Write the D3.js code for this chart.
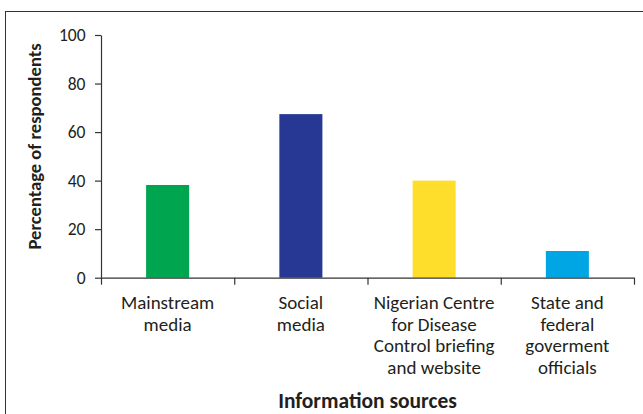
<!DOCTYPE html>
<html>
<head>
<meta charset="utf-8">
<script src="https://cdn.jsdelivr.net/npm/d3@7"></script>
<style>
  html, body { margin: 0; padding: 0; background: #fff; }
  svg { display: block; }
  text { font-family: Calibri, Carlito, Lato, "Open Sans", sans-serif; fill: #231f20; }
</style>
</head>
<body>
<svg id="chart" width="643" height="414"></svg>
<script>
// Information sources reported by respondents
const categories = [
  ["Mainstream", "media"],
  ["Social", "media"],
  ["Nigerian Centre", "for Disease", "Control briefing", "and website"],
  ["State and", "federal", "goverment", "officials"]
];
const values = [38.2, 67.4, 40, 11];
const colors = ["#00a550", "#263893", "#ffdd2b", "#00a6e3"];
const yTicks = [0, 20, 40, 60, 80, 100];
const xTitle = "Information sources";
const yTitle = "Percentage of respondents";

const svg = d3.select("#chart");
const ink = "#333";

// frame around the figure
svg.append("rect")
  .attr("x", 5.5).attr("y", 11.5)
  .attr("width", 700).attr("height", 500)
  .attr("fill", "none").attr("stroke", ink).attr("stroke-width", 1);

const plotLeft = 101, plotRight = 634, plotTop = 35, plotBottom = 277.7;

const y = d3.scaleLinear().domain([0, 100]).range([plotBottom, plotTop]);
const x = d3.scaleBand().domain(d3.range(categories.length))
  .range([plotLeft, plotRight]).paddingInner(0).paddingOuter(0);
const edge = d3.scaleLinear().domain([0, categories.length]).range([plotLeft, plotRight]);
const barW = x.bandwidth() * 0.323;

// bars
svg.append("g").selectAll("rect")
  .data(values)
  .join("rect")
  .attr("x", (d, i) => x(i) + x.bandwidth() / 2 - barW / 2)
  .attr("width", barW)
  .attr("y", d => y(d))
  .attr("height", d => y(0) - y(d))
  .attr("fill", (d, i) => colors[i]);

// y axis
const yAxis = svg.append("g")
  .attr("transform", `translate(${plotLeft},0)`)
  .call(d3.axisLeft(y).tickValues(yTicks).tickSize(6).tickSizeOuter(0).tickPadding(9.5));
yAxis.selectAll("path, line").attr("stroke", ink).attr("stroke-width", 1.2);
yAxis.selectAll("text").style("font-size", "17.5px").attr("fill", "#231f20")
  .style("font-family", "Calibri, Carlito, Lato, 'Open Sans', sans-serif");

// x axis with ticks at category boundaries
const xAxis = svg.append("g")
  .attr("transform", `translate(0,${plotBottom})`)
  .call(d3.axisBottom(edge).tickValues(d3.range(categories.length + 1))
    .tickFormat("").tickSize(7).tickSizeOuter(0));
xAxis.selectAll("path, line").attr("stroke", ink).attr("stroke-width", 1.2);

// category labels
const labels = svg.append("g").selectAll("text")
  .data(categories)
  .join("text")
  .attr("text-anchor", "middle")
  .attr("x", (d, i) => x(i) + x.bandwidth() / 2)
  .attr("y", 309)
  .style("font-size", "19px");
labels.selectAll("tspan")
  .data(d => d)
  .join("tspan")
  .attr("x", function () { return d3.select(this.parentNode).attr("x"); })
  .attr("dy", (d, i) => i === 0 ? 0 : 21.7)
  .text(d => d);

// axis titles
svg.append("text")
  .attr("x", (plotLeft + plotRight) / 2).attr("y", 408)
  .attr("text-anchor", "middle")
  .style("font-size", "21.5px").style("font-weight", "bold")
  .text(xTitle);

svg.append("text")
  .attr("transform", "translate(41,146.5) rotate(-90)")
  .attr("text-anchor", "middle")
  .style("font-size", "18.6px").style("font-weight", "bold")
  .text(yTitle);
</script>
</body>
</html>
